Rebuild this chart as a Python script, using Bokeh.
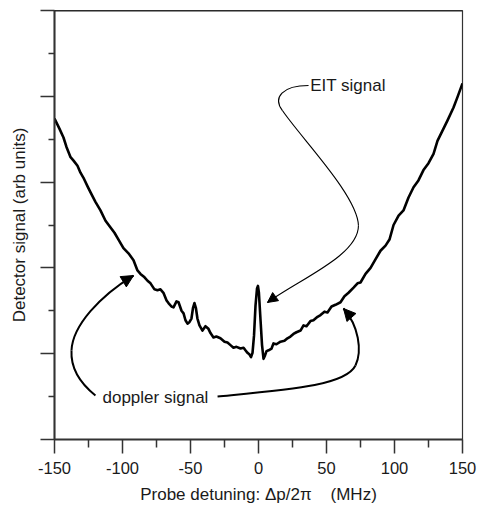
from bokeh.plotting import figure
from bokeh.models import Range1d, FixedTicker, Span, Arrow, NormalHead, Label, CustomLabelingPolicy
from bokeh.embed import file_html
from bokeh.resources import INLINE

# ---------------- data ----------------
detuning = [-150.0, -146.3, -143.4, -141.2, -138.2, -136.0, -133.1, -130.9, -128.7, -125.7,
            -123.5, -119.9, -116.2, -112.5, -108.8, -105.9, -103.7, -99.3, -95.6, -91.9,
            -89.0, -86.8, -83.8, -81.6, -79.4, -76.5, -74.3, -72.1, -69.9, -67.6,
            -66.2, -64.0, -62.5, -60.3, -58.8, -56.6, -55.1, -53.7, -52.2, -50.7,
            -49.3, -48.2, -47.1, -46.0, -44.9, -43.4, -41.2, -39.0, -36.8, -35.3,
            -33.1, -31.0, -28.0, -25.0, -22.8, -20.6, -18.4, -16.2, -13.2, -11.0,
            -9.6, -8.1, -6.6, -5.5, -4.4, -3.3, -2.2, -1.1, -0.4, 0.3,
            1.5, 2.6, 3.7, 4.8, 5.9, 7.4, 9.6, 11.0, 13.2, 16.2,
            19.1, 21.3, 23.5, 25.7, 27.9, 30.9, 33.1, 35.3, 38.2, 40.4,
            43.4, 45.6, 48.5, 50.7, 53.7, 56.6, 60.3, 63.2, 66.2, 69.9,
            72.8, 75.0, 78.7, 82.4, 86.0, 89.7, 93.4, 96.3, 99.3, 103.0,
            106.6, 110.3, 114.0, 117.6, 121.3, 125.0, 128.7, 131.6, 135.3, 139.0,
            143.4, 146.3, 150.0]
signal = [3.74, 3.62, 3.52, 3.41, 3.29, 3.25, 3.19, 3.11, 3.05, 2.95,
          2.88, 2.77, 2.67, 2.55, 2.47, 2.41, 2.35, 2.23, 2.17, 2.09,
          1.97, 1.93, 1.89, 1.85, 1.82, 1.75, 1.74, 1.75, 1.71, 1.62,
          1.59, 1.55, 1.54, 1.61, 1.60, 1.50, 1.47, 1.39, 1.35, 1.37,
          1.41, 1.53, 1.59, 1.53, 1.41, 1.33, 1.27, 1.32, 1.29, 1.24,
          1.19, 1.20, 1.18, 1.14, 1.13, 1.10, 1.07, 1.08, 1.06, 1.07,
          1.04, 1.01, 0.99, 0.96, 1.01, 1.21, 1.56, 1.76, 1.79, 1.71,
          1.39, 1.10, 0.94, 0.98, 1.03, 1.04, 1.06, 1.12, 1.11, 1.14,
          1.15, 1.18, 1.20, 1.23, 1.25, 1.27, 1.33, 1.32, 1.38, 1.39,
          1.43, 1.45, 1.49, 1.48, 1.55, 1.57, 1.60, 1.67, 1.71, 1.77,
          1.82, 1.83, 1.93, 2.00, 2.10, 2.20, 2.26, 2.33, 2.50, 2.61,
          2.67, 2.82, 2.94, 3.02, 3.14, 3.22, 3.33, 3.48, 3.60, 3.72,
          3.87, 3.99, 4.15]

x_major_ticks = [-150, -100, -50, 0, 50, 100, 150]
x_minor_ticks = [-125, -75, -25, 25, 75, 125]
x_tick_labels = ["-150", "-100", "-50", "0", "50", "100", "150"]
y_major_ticks = [0, 1, 2, 3, 4, 5]
y_minor_ticks = [0.5, 1.5, 2.5, 3.5, 4.5]

x_title = "Probe detuning: \u0394p/2\u03c0\u00a0\u00a0\u00a0\u00a0(MHz)"
y_title = "Detector signal (arb units)"

# annotation texts and their anchors (data units)
eit_label = "EIT signal"
eit_label_at = (38.0, 4.126)
doppler_label = "doppler signal"
doppler_label_at = (-114.7, 0.49)

# annotation leader curves: (x0, y0, cx0, cy0, cx1, cy1, x1, y1)
eit_curves = [
    (36.8, 4.126, 17.6, 4.126, 10.3, 3.986, 17.6, 3.834),
    (17.6, 3.834, 30.9, 3.520, 72.8, 2.844, 73.5, 2.494),
    (73.5, 2.494, 73.5, 2.145, 30.9, 1.876, 6.6, 1.597),
]
doppler_curves = [
    (-119.9, 0.513, -130.9, 0.653, -138.2, 0.828, -137.5, 1.037),
    (-137.5, 1.037, -136.8, 1.329, -116.2, 1.678, -91.9, 1.911),
    (-30.1, 0.501, 23.5, 0.583, 64.0, 0.629, 71.3, 0.862),
    (71.3, 0.862, 76.5, 1.037, 73.5, 1.329, 62.5, 1.527),
]

FONT = "Liberation Sans"
INK = "#1a1a1a"

p = figure(width=479, height=509,
           x_range=Range1d(-150, 150), y_range=Range1d(0, 5),
           output_backend="svg", toolbar_location=None,
           min_border_left=54, min_border_right=17,
           min_border_top=10, min_border_bottom=70)
p.xgrid.visible = False
p.ygrid.visible = False
p.outline_line_color = "#333333"
p.outline_line_width = 1.2
p.background_fill_color = "white"
p.border_fill_color = "white"

# axes
xa = p.xaxis[0]
xa.ticker = FixedTicker(ticks=x_major_ticks, minor_ticks=x_minor_ticks)
xa.major_label_overrides = dict(zip(x_major_ticks, x_tick_labels))
xa.axis_line_width = 2
xa.axis_line_color = "#333333"
xa.major_tick_line_color = "#333333"
xa.minor_tick_line_color = "#333333"
xa.major_tick_line_width = 1.5
xa.minor_tick_line_width = 1.5
xa.major_tick_in = 0
xa.major_tick_out = 14
xa.minor_tick_in = 0
xa.minor_tick_out = 8
xa.major_label_text_font = FONT
xa.major_label_text_font_size = "16.5px"
xa.major_label_text_color = INK
xa.major_label_standoff = 8
xa.axis_label = x_title
xa.axis_label_text_font = FONT
xa.axis_label_text_font_size = "17px"
xa.axis_label_text_font_style = "normal"
xa.axis_label_text_color = INK
xa.axis_label_standoff = 8

ya = p.yaxis[0]
ya.ticker = FixedTicker(ticks=y_major_ticks, minor_ticks=y_minor_ticks)
ya.axis_line_width = 2
ya.axis_line_color = "#333333"
ya.major_tick_line_color = "#333333"
ya.minor_tick_line_color = "#333333"
ya.major_tick_line_width = 1.5
ya.minor_tick_line_width = 1.5
ya.major_tick_in = 0
ya.major_tick_out = 14
ya.minor_tick_in = 0
ya.minor_tick_out = 6
# the reference shows no numbers on the vertical axis
ya.major_label_policy = CustomLabelingPolicy(code="""
    for (const i of indices)
        indices.unset(i)
    return indices
""")
ya.major_label_text_font_size = "11px"
ya.major_label_standoff = 0
ya.axis_label = y_title
ya.axis_label_text_font = FONT
ya.axis_label_text_font_size = "17px"
ya.axis_label_text_font_style = "normal"
ya.axis_label_text_color = INK
ya.axis_label_standoff = 2

# thick top border
p.add_layout(Span(location=y_major_ticks[-1], dimension="width",
                  line_color="#222222", line_width=2))

# the measured signal
p.line(detuning, signal, line_color="black", line_width=2.6, line_join="round")


def draw_curves(curves, width):
    cols = list(zip(*curves))
    p.bezier(x0=list(cols[0]), y0=list(cols[1]), cx0=list(cols[2]), cy0=list(cols[3]),
             cx1=list(cols[4]), cy1=list(cols[5]), x1=list(cols[6]), y1=list(cols[7]),
             line_color="black", line_width=width)


draw_curves(eit_curves, 1.1)
draw_curves(doppler_curves, 2.0)

# arrow heads at the end of each leader (direction from last control point)
for curves, idxs, size in ((eit_curves, [2], 10), (doppler_curves, [1, 3], 12)):
    for i in idxs:
        c = curves[i]
        p.add_layout(Arrow(end=NormalHead(size=size, fill_color="black", line_color="black",
                                          line_width=1),
                           x_start=c[4], y_start=c[5], x_end=c[6], y_end=c[7],
                           line_alpha=0))

p.add_layout(Label(x=eit_label_at[0], y=eit_label_at[1], text=eit_label,
                   text_font=FONT, text_font_size="17px", text_color=INK,
                   text_baseline="middle", text_align="left"))
p.add_layout(Label(x=doppler_label_at[0], y=doppler_label_at[1], text=doppler_label,
                   text_font=FONT, text_font_size="17px", text_color=INK,
                   text_baseline="middle", text_align="left"))

open("out.html", "w").write(file_html(p, INLINE))
